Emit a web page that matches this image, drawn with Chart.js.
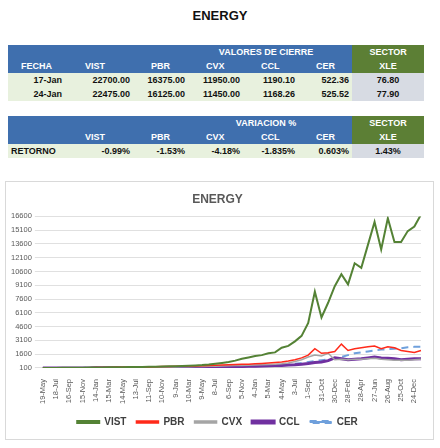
<!DOCTYPE html><html><head><meta charset="utf-8">
<script src="https://cdn.jsdelivr.net/npm/chart.js@4/dist/chart.umd.min.js"></script>
<style>
body{margin:0;width:440px;height:448px;background:#fff;font-family:"Liberation Sans",Arial,sans-serif;position:relative}
h1{position:absolute;top:8px;left:0;width:440px;text-align:center;font-size:13px;margin:0;font-weight:bold;color:#111}
table{position:absolute;left:8px;width:416px;border-collapse:collapse;font-size:9px;font-weight:bold;table-layout:fixed}
td{height:14px;padding:0 3px;white-space:nowrap}
.h td{background:#3f6fae;color:#fff}
.h td.s{background:#5c7f35;text-align:center}
.d td{background:#e8f1de;color:#111;text-align:right}
.d td.x{background:#d7dbe3;text-align:center}
.c{text-align:center}
#box{position:absolute;left:5px;top:181px;width:427px;height:257px;border:1px solid #d9d9d9}
</style></head><body>
<h1>ENERGY</h1>
<table style="top:45px"><colgroup><col style="width:57px"><col style="width:68px"><col style="width:55px"><col style="width:55px"><col style="width:55px"><col style="width:54px"><col style="width:72px"></colgroup>
<tr class="h"><td></td><td></td><td colspan="4" style="text-align:center;padding-left:50px">VALORES DE CIERRE</td><td class="s">SECTOR</td></tr>
<tr class="h"><td class="c">FECHA</td><td style="padding-left:20px">VIST</td><td style="padding-left:18px">PBR</td><td style="padding-left:18px">CVX</td><td style="padding-left:18px">CCL</td><td style="padding-left:18px">CER</td><td class="s">XLE</td></tr>
<tr class="d"><td class="c">17-Jan</td><td>22700.00</td><td>16375.00</td><td>11950.00</td><td>1190.10</td><td>522.36</td><td class="x">76.80</td></tr>
<tr class="d"><td class="c">24-Jan</td><td>22475.00</td><td>16125.00</td><td>11450.00</td><td>1168.26</td><td>525.52</td><td class="x">77.90</td></tr>
</table>
<table style="top:116px"><colgroup><col style="width:57px"><col style="width:68px"><col style="width:55px"><col style="width:55px"><col style="width:55px"><col style="width:54px"><col style="width:72px"></colgroup>
<tr class="h"><td></td><td></td><td colspan="4" style="text-align:center;padding-left:50px">VARIACION %</td><td class="s">SECTOR</td></tr>
<tr class="h"><td></td><td style="padding-left:20px">VIST</td><td style="padding-left:18px">PBR</td><td style="padding-left:18px">CVX</td><td style="padding-left:18px">CCL</td><td style="padding-left:18px">CER</td><td class="s">XLE</td></tr>
<tr class="d"><td style="text-align:left">RETORNO</td><td>-0.99%</td><td>-1.53%</td><td>-4.18%</td><td>-1.835%</td><td>0.603%</td><td class="x">1.43%</td></tr>
</table>
<div id="box"><canvas id="c" width="427" height="257"></canvas></div>
<script>
const tickLabels=["19-May","18-Jul","16-Sep","15-Nov","14-Jan","15-Mar","14-May","13-Jul","11-Sep","10-Nov","9-Jan","10-Mar","9-May","8-Jul","6-Sep","5-Nov","4-Jan","5-Mar","4-May","3-Jul","1-Sep","31-Oct","30-Dec","28-Feb","28-Apr","27-Jun","26-Aug","25-Oct","24-Dec"];
const VIST=[100,105,110,115,120,125,130,140,150,160,170,180,190,200,210,220,230,240,260,280,300,320,350,380,420,480,560,650,750,900,1100,1250,1400,1500,1700,1800,2300,2500,3000,3600,5000,8400,5600,7200,9000,10300,9200,11500,11000,13500,16000,13000,16400,13800,13800,15000,15500,16800];
const PBR=[100,105,110,115,120,125,130,135,140,150,160,170,180,190,200,210,220,230,250,270,290,300,310,320,340,360,400,420,450,480,500,520,560,600,650,700,750,850,1000,1200,1500,2200,1700,1750,1900,2700,2000,2200,2300,2400,2500,2200,2400,2300,2000,1900,1800,2000];
const CVX=[100,102,105,108,110,112,115,118,120,125,130,135,140,150,160,170,180,190,200,210,220,230,240,250,260,280,300,320,340,360,380,400,420,450,480,520,560,650,800,1000,1300,1500,1400,1700,1000,1050,1000,1050,1050,1100,1150,1050,1000,950,950,950,1000,1050];
const CCL=[100,100,102,104,106,108,110,112,114,116,118,120,122,124,126,130,134,138,142,146,150,155,160,170,180,190,200,210,220,240,260,280,300,320,340,360,380,420,460,520,600,700,750,900,1200,1100,1000,1050,1100,1200,1300,1200,1150,1100,1000,1050,1100,1100];
const CER=[100,102,104,106,108,110,112,114,116,118,120,124,128,132,136,140,145,150,155,160,170,180,190,200,210,220,230,245,260,275,290,310,330,350,380,410,450,500,560,650,750,850,950,1050,1100,1300,1500,1700,1800,1900,2000,2100,2150,2200,2250,2350,2400,2400];
const labels=VIST.map((_,i)=>i%2===0&&tickLabels[i/2]?tickLabels[i/2]:"");
const mk=(l,d,c,w,dash)=>({label:l,data:d,borderColor:c,backgroundColor:c,borderWidth:w,borderDash:dash||[],pointRadius:0,tension:0});
new Chart(document.getElementById('c'),{type:'line',data:{labels,datasets:[
mk('VIST',VIST,'#548235',2),mk('PBR',PBR,'#ff2a1a',1.5),mk('CVX',CVX,'#a5a5a5',1.5),mk('CCL',CCL,'#7030a0',3),mk('CER',CER,'#6fa0dc',2,[7,5])]},
options:{responsive:false,animation:false,layout:{padding:{left:2,right:6,top:0,bottom:2}},
plugins:{title:{display:true,text:'ENERGY',color:'#595959',font:{size:12,weight:'bold',family:'Liberation Sans'},padding:{top:10,bottom:10}},
legend:{position:'bottom',labels:{boxWidth:22,boxHeight:2,color:'#404040',font:{size:10,weight:'bold',family:'Liberation Sans'},padding:10}}},
scales:{x:{grid:{display:false},ticks:{autoSkip:false,maxRotation:90,minRotation:90,color:'#595959',font:{size:7.5},callback:(v,i)=>labels[i]}},
y:{min:100,max:16600,afterBuildTicks:a=>{a.ticks=[];for(let v=100;v<=16600;v+=1500)a.ticks.push({value:v});},ticks:{color:'#595959',font:{size:7.5},callback:v=>String(v)},grid:{color:'#e0e0e0'},border:{display:false}}}}});
</script></body></html>
